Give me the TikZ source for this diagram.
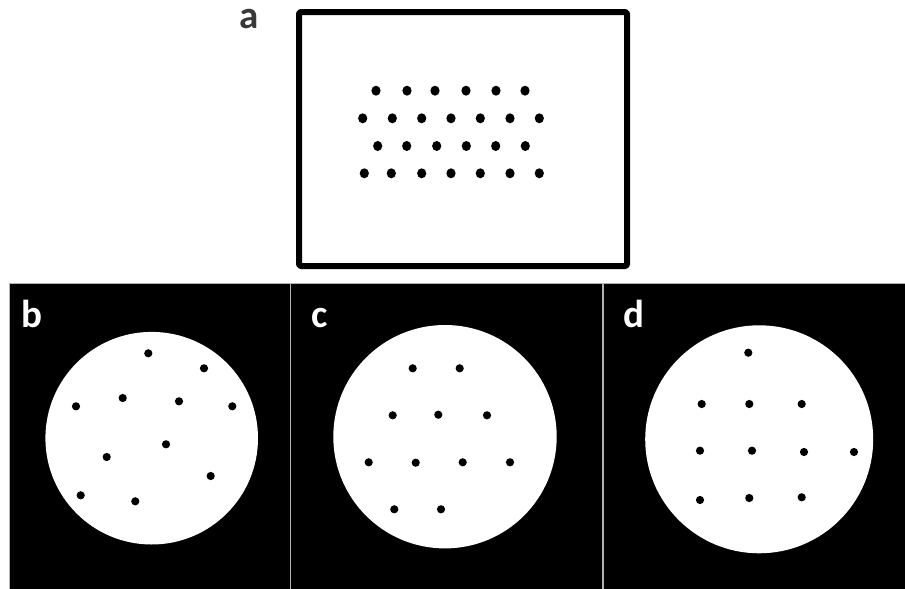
\documentclass[tikz,border=0pt]{standalone}
\usepackage{fontspec}
\setmainfont{Carlito}
\begin{document}
\begin{tikzpicture}[x=1pt,y=-1pt,
  panel/.style={fill=black,draw=gray!60,line width=1pt},
  disk/.style={fill=white},
  spot/.style={fill=black},
  plabel/.style={anchor=base west,inner sep=0pt,font=\fontsize{39}{39}\selectfont\bfseries}]
\useasboundingbox (0,0) rectangle (905,589);
\fill[white] (0,0) rectangle (905,589);

% panel a: framed rectangle with a staggered grid of dots
\draw[line width=6pt,line join=round,rounded corners=1.5pt] (299,12) rectangle (627,266);
\foreach \x in {376,407,435,466,496,525}
  \fill[spot] (\x,90.7) ellipse [x radius=4.6,y radius=5];
\foreach \x in {362.7,392.3,421.7,451,480.3,510,539.3}
  \fill[spot] (\x,118.3) ellipse [x radius=4.6,y radius=5];
\foreach \x in {377.7,406.7,436.7,466.3,495.7,525.3}
  \fill[spot] (\x,146) ellipse [x radius=4.6,y radius=5];
\foreach \x in {364.3,391.3,421.7,451,480.3,510,539.3}
  \fill[spot] (\x,173.3) ellipse [x radius=4.6,y radius=5];
\node[plabel,text=black!78] (la) at (239.5,28.3) {a};

% panel b: irregular arrangement
\draw[panel] (9,283) rectangle (290,600);
\fill[disk] (151.7,438.2) circle [radius=106.3];
\foreach \p in {(148.3,353.3),(204,368.3),(76,406.3),(122.7,398),(179,401.3),
                (232.3,406.3),(166,444.3),(106.7,457),(210.7,476),(80.7,495.3),(135.3,501.3)}
  \fill[spot] \p circle [radius=4.1];
\node[plabel,text=white] (lb) at (21,327.3) {b};

% panel c: hexagonal arrangement
\draw[panel] (290.7,283) rectangle (602,600);
\fill[disk] (445,436.7) circle [radius=111.7];
\foreach \p in {(412.7,368.3),(459.7,368.3),(392.7,415.3),(438.3,414.7),(487,415.3),
                (368.7,462.3),(415.7,462.7),(462.7,462.3),(510,462.3),(394.3,509.3),(441,509.3)}
  \fill[spot] \p circle [radius=4.1];
\node[plabel,text=white] (lc) at (311.5,327.3) {c};

% panel d: square arrangement
\draw[panel] (603,283) rectangle (910,600);
\fill[disk] (759.2,439.3) circle [radius=114];
\foreach \p in {(748.3,352.7),(701.7,404),(749.3,404),(801.7,404),(700,450.7),
                (752,450.7),(804,452),(854,452),(700,500),(749.3,498),(801.7,497.3)}
  \fill[spot] \p circle [radius=4.1];
\node[plabel,text=white] (ld) at (623,327.3) {d};
\end{tikzpicture}
\end{document}
